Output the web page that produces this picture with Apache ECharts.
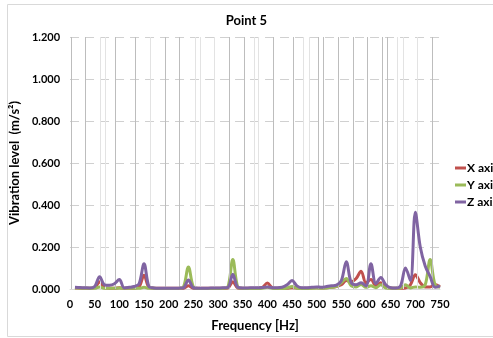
<!DOCTYPE html>
<html><head><meta charset="utf-8">
<script src="https://cdn.jsdelivr.net/npm/echarts@6/dist/echarts.min.js"></script>
<style>html,body{margin:0;padding:0;background:#fff}#c{width:493px;height:338px}</style>
</head><body><div id="c"></div>
<script>
const freq = [10,20,30,40,50,60,70,80,90,100,110,120,130,140,150,160,170,180,190,200,210,220,230,240,250,260,270,280,290,300,310,320,330,340,350,360,370,380,390,400,410,420,430,440,450,460,470,480,490,500,510,520,530,540,550,560,570,580,590,600,610,620,630,640,650,660,670,680,690,700,710,720,730,740,750];
const xAxisVals = [0.005,0.004,0.003,0.003,0.006,0.035,0.006,0.004,0.004,0.006,0.003,0.003,0.004,0.01,0.065,0.008,0.004,0.003,0.003,0.003,0.003,0.003,0.004,0.015,0.004,0.003,0.003,0.003,0.003,0.003,0.003,0.005,0.035,0.005,0.003,0.003,0.003,0.004,0.008,0.028,0.006,0.003,0.003,0.004,0.006,0.005,0.003,0.004,0.005,0.006,0.005,0.006,0.008,0.012,0.02,0.04,0.035,0.05,0.085,0.03,0.045,0.015,0.03,0.01,0.005,0.004,0.004,0.005,0.02,0.068,0.03,0.01,0.01,0.022,0.01];
const yAxisVals = [0.005,0.004,0.003,0.003,0.003,0.01,0.003,0.003,0.003,0.005,0.003,0.003,0.003,0.003,0.008,0.003,0.003,0.002,0.002,0.002,0.002,0.003,0.01,0.105,0.01,0.002,0.002,0.002,0.002,0.002,0.003,0.01,0.14,0.01,0.003,0.002,0.002,0.002,0.003,0.008,0.003,0.002,0.002,0.005,0.012,0.004,0.002,0.002,0.003,0.005,0.003,0.005,0.008,0.012,0.03,0.05,0.015,0.01,0.022,0.008,0.015,0.006,0.02,0.005,0.003,0.003,0.005,0.02,0.005,0.01,0.008,0.02,0.14,0.02,0.008];
const zAxisVals = [0.008,0.007,0.006,0.005,0.012,0.058,0.02,0.018,0.025,0.045,0.005,0.008,0.012,0.025,0.12,0.012,0.005,0.004,0.004,0.004,0.003,0.004,0.006,0.043,0.006,0.004,0.004,0.004,0.005,0.005,0.006,0.008,0.07,0.008,0.005,0.005,0.006,0.006,0.007,0.01,0.006,0.006,0.008,0.02,0.04,0.015,0.006,0.006,0.008,0.01,0.008,0.012,0.015,0.018,0.04,0.13,0.03,0.02,0.03,0.015,0.12,0.025,0.055,0.02,0.006,0.005,0.015,0.1,0.04,0.365,0.2,0.11,0.06,0.008,0.015];
const seriesNames = ['X axis','Y axis','Z axis'];
const seriesColors = ['#c0504d','#9bbb59','#8064a2'];
const yTicks = [0,0.2,0.4,0.6,0.8,1.0,1.2];
const xTicks = [0,50,100,150,200,250,300,350,400,450,500,550,600,650,700,750];
const vGridDark = [2,30,91,132,193,221,322,353,412,452,503,513,543,574,602,632,643,734];
const vGridLight = [61,71,162,253,264,292,373,381,472,484,663,675,703];

const FONT = 'Lato';
const chart = echarts.init(document.getElementById('c'), null, {renderer:'canvas'});
const pairs = v => freq.map((f,i)=>[f,v[i]]);
const vlineSeries = (vals,color) => ({
  type:'line', data:[], silent:true, z:1,
  markLine:{silent:true, symbol:['none','none'], label:{show:false},
    lineStyle:{color:color,type:'solid',width:1}, animation:false,
    data: vals.map(v=>({xAxis:v}))}
});
chart.setOption({
  animation:false,
  graphic:[{type:'rect', shape:{x:7.5,y:4.5,width:520,height:332}, style:{fill:'none',stroke:'#d9d9d9',lineWidth:1}, z:-1}],
  title:{text:'Point 5', left:'center', top:9, textStyle:{fontFamily:FONT,fontSize:13,fontWeight:'bold',color:'#000'}},
  legend:{orient:'vertical', left:450, top:157, itemWidth:11, itemHeight:3, itemGap:5, icon:'rect',
    data:seriesNames, textStyle:{fontFamily:FONT,fontSize:12,fontWeight:'bold',color:'#000',padding:[0,0,0,-4]}},
  grid:{left:70, right:53, top:37, bottom:49},
  xAxis:{type:'value', min:0, max:750, interval:50,
    name:'Frequency [Hz]', nameLocation:'middle', nameGap:30,
    nameTextStyle:{fontFamily:FONT,fontSize:13,fontWeight:'bold',color:'#000'},
    axisLine:{show:true,lineStyle:{color:'#d9d9d9'}}, axisTick:{show:false},
    axisLabel:{fontFamily:FONT,fontSize:11,fontWeight:'bold',color:'#000',margin:10,
      customValues:xTicks},
    splitLine:{show:false}},
  yAxis:{type:'value', min:0, max:1.2, interval:0.2,
    name:'Vibration level  (m/s\u00b2)', nameLocation:'middle', nameGap:42,
    nameTextStyle:{fontFamily:FONT,fontSize:13,fontWeight:'bold',color:'#000'},
    axisLine:{show:false}, axisTick:{show:false},
    axisLabel:{fontFamily:FONT,fontSize:11,fontWeight:'bold',color:'#000',margin:10,
      formatter:v=>v.toFixed(3)},
    splitLine:{show:true,lineStyle:{color:'#d0d0d0',type:[9,6],width:1}}},
  series:[
    vlineSeries(vGridLight,'#e3e3e3'),
    vlineSeries(vGridDark,'#bdbdbd'),
    ...seriesNames.map((n,i)=>({
      name:n, type:'line', data:pairs([xAxisVals,yAxisVals,zAxisVals][i]),
      smooth:0.35, showSymbol:false, z:3+i,
      lineStyle:{color:seriesColors[i],width:3}, itemStyle:{color:seriesColors[i]}
    }))
  ]
});
</script></body></html>
